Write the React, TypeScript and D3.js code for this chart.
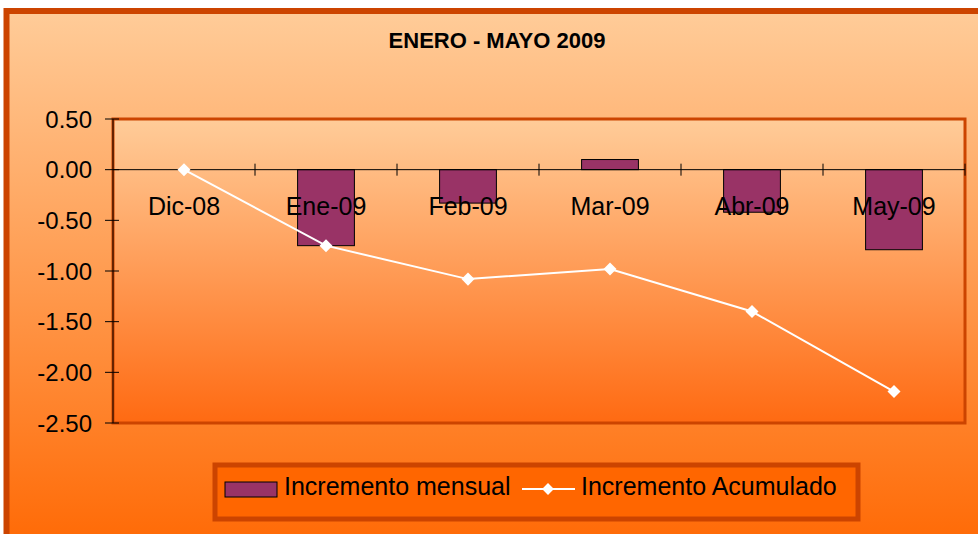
import React, { useEffect, useRef } from 'react';
import * as d3 from 'd3';

const categories = ['Dic-08', 'Ene-09', 'Feb-09', 'Mar-09', 'Abr-09', 'May-09'];
const mensual = [0, -0.75, -0.33, 0.1, -0.42, -0.79];
const acumulado = [0, -0.75, -1.08, -0.98, -1.4, -2.19];
const yTicks = [0.5, 0, -0.5, -1, -1.5, -2, -2.5];

const App: React.FC = () => {
  const svgRef = useRef<SVGSVGElement>(null);

  useEffect(() => {
    if (!svgRef.current) return;
    const svg = d3.select(svgRef.current);
    svg.selectAll('*').remove();

    const width = 978;
    const height = 534;
    const plot = { left: 113, top: 119, right: 965, bottom: 423 };
    const font = 'Liberation Sans, Arial, sans-serif';
    const fmt = (v: number) => d3.format('.2f')(v).replace('\u2212', '-');

    const defs = svg.append('defs');
    const g1 = defs.append('linearGradient').attr('id', 'bgGrad').attr('x1', 0).attr('y1', 0).attr('x2', 0).attr('y2', 1);
    g1.append('stop').attr('offset', '0%').attr('stop-color', '#ffcc99');
    g1.append('stop').attr('offset', '100%').attr('stop-color', '#ff6600');
    const g2 = defs.append('linearGradient').attr('id', 'plotGrad').attr('x1', 0).attr('y1', 0).attr('x2', 0).attr('y2', 1);
    g2.append('stop').attr('offset', '0%').attr('stop-color', '#ffcc99');
    g2.append('stop').attr('offset', '100%').attr('stop-color', '#ff6a12');

    // outer chart area
    svg.append('rect')
      .attr('x', 6.5).attr('y', 11).attr('width', width + 20).attr('height', height + 20)
      .attr('fill', 'url(#bgGrad)').attr('stroke', '#cc4400').attr('stroke-width', 6);

    svg.append('text')
      .attr('x', 497).attr('y', 48).attr('text-anchor', 'middle')
      .attr('font-family', font).attr('font-weight', 'bold').attr('font-size', 22)
      .text('ENERO - MAYO 2009');

    const x = d3.scaleBand<string>().domain(categories).range([plot.left, plot.right]);
    const y = d3.scaleLinear().domain([-2.5, 0.5]).range([plot.bottom, plot.top]);

    // plot area
    svg.append('rect')
      .attr('x', plot.left).attr('y', plot.top)
      .attr('width', plot.right - plot.left).attr('height', plot.bottom - plot.top)
      .attr('fill', 'url(#plotGrad)').attr('stroke', '#cc4400').attr('stroke-width', 3);

    // y axis
    svg.append('line')
      .attr('x1', plot.left).attr('x2', plot.left).attr('y1', plot.top).attr('y2', plot.bottom)
      .attr('stroke', '#000').attr('stroke-width', 1);
    yTicks.forEach(t => {
      svg.append('line')
        .attr('x1', plot.left - 8).attr('x2', plot.left + 6)
        .attr('y1', y(t)).attr('y2', y(t))
        .attr('stroke', '#000').attr('stroke-width', 1);
      svg.append('text')
        .attr('x', 92).attr('y', y(t) + 8.5).attr('text-anchor', 'end')
        .attr('font-family', font).attr('font-size', 24)
        .text(fmt(t));
    });

    // bars
    const bw = x.bandwidth() * 0.4;
    svg.selectAll('rect.bar').data(mensual).enter().append('rect')
      .attr('class', 'bar')
      .attr('x', (_, i) => (x(categories[i]) as number) + x.bandwidth() / 2 - bw / 2)
      .attr('width', bw)
      .attr('y', d => y(Math.max(0, d)))
      .attr('height', d => Math.abs(y(d) - y(0)))
      .attr('fill', '#993366').attr('stroke', '#000').attr('stroke-width', 1)
      .attr('opacity', d => (d === 0 ? 0 : 1));

    // zero line + category ticks
    svg.append('line')
      .attr('x1', plot.left).attr('x2', plot.right).attr('y1', y(0)).attr('y2', y(0))
      .attr('stroke', '#000').attr('stroke-width', 1);
    categories.forEach(c => {
      const xe = (x(c) as number) + x.bandwidth();
      svg.append('line')
        .attr('x1', xe).attr('x2', xe).attr('y1', y(0) - 6).attr('y2', y(0) + 6)
        .attr('stroke', '#000').attr('stroke-width', 1);
    });

    // category labels
    categories.forEach(c => {
      svg.append('text')
        .attr('x', (x(c) as number) + x.bandwidth() / 2).attr('y', y(0) + 45)
        .attr('text-anchor', 'middle')
        .attr('font-family', font).attr('font-size', 25)
        .text(c);
    });

    // cumulative line
    const cx = (i: number) => (x(categories[i]) as number) + x.bandwidth() / 2;
    const line = d3.line<number>().x((_, i) => cx(i)).y(d => y(d));
    svg.append('path').datum(acumulado)
      .attr('fill', 'none').attr('stroke', '#fff').attr('stroke-width', 2)
      .attr('d', line);
    const diamond = d3.symbol().type(d3.symbolSquare).size(85)() as string;
    svg.selectAll('path.pt').data(acumulado).enter().append('path')
      .attr('class', 'pt')
      .attr('transform', (d, i) => `translate(${cx(i)},${y(d)}) rotate(45)`)
      .attr('d', diamond)
      .attr('fill', '#fff');

    // legend
    svg.append('rect')
      .attr('x', 215).attr('y', 465).attr('width', 643).attr('height', 54)
      .attr('fill', '#ff6600').attr('stroke', '#cc4400').attr('stroke-width', 5);
    svg.append('rect')
      .attr('x', 225).attr('y', 482).attr('width', 52).attr('height', 15)
      .attr('fill', '#993366').attr('stroke', '#000').attr('stroke-width', 1);
    svg.append('text')
      .attr('x', 284).attr('y', 495)
      .attr('font-family', font).attr('font-size', 25)
      .text('Incremento mensual');
    svg.append('line')
      .attr('x1', 522).attr('x2', 575).attr('y1', 489).attr('y2', 489)
      .attr('stroke', '#fff').attr('stroke-width', 2);
    svg.append('path')
      .attr('transform', 'translate(548,489) rotate(45)')
      .attr('d', d3.symbol().type(d3.symbolSquare).size(70)() as string)
      .attr('fill', '#fff');
    svg.append('text')
      .attr('x', 581).attr('y', 495)
      .attr('font-family', font).attr('font-size', 25)
      .text('Incremento Acumulado');
  }, []);

  return (
    <svg
      ref={svgRef}
      width={978}
      height={534}
      style={{ position: 'absolute', left: 0, top: 0, background: '#fff' }}
    />
  );
};

export default App;
